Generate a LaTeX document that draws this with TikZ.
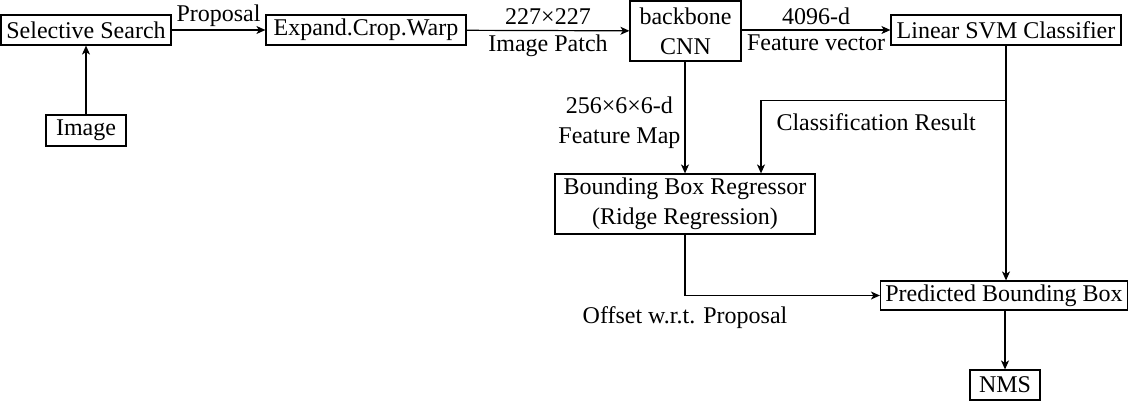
\documentclass[tikz,border=0pt]{standalone}
\usepackage{fontspec}
\setmainfont{Liberation Serif}
\usepackage{tikz}
\usetikzlibrary{shapes,arrows.meta,positioning,calc}

\begin{document}
\begin{tikzpicture}[x=1pt, y=-1pt, line width=1.2pt,
    >={Stealth[length=9pt, width=8pt, inset=2.5pt]},
    every node/.style={font=\fontsize{24}{30}\selectfont},
    box/.style={rectangle, draw, inner sep=0pt, align=center},
    lbl/.style={inner sep=5pt, align=center}]
\useasboundingbox (0,0) rectangle (1131,401);

% Prima riga
\node[box, minimum width=170, minimum height=30] (ss) at (86,30) {Selective Search};
\node[box, minimum width=80, minimum height=31] (img) at (86,130.5) {Image};
\node[box, minimum width=200, minimum height=30] (ecw) at (366,30) {Expand.Crop.Warp};
\node[box, minimum width=111, minimum height=60] (cnn) at (685.5,31) {backbone\\CNN};
\node[box, minimum width=230, minimum height=30] (svm) at (1006,30) {Linear SVM Classifier};

\draw[->] (img) -- (ss);
\draw[->] (ss) -- node[lbl, above, inner sep=3pt] {Proposal} (ecw);
\draw[->] (ecw) -- node[lbl, above] {227×227} node[lbl, below, inner sep=4pt] {Image Patch} (cnn);
\draw[->] (cnn.east |- svm) -- node[lbl, above] {4096-d} node[lbl, below, inner sep=4pt] {Feature vector} (svm);

% Regressione
\node[box, minimum width=260, minimum height=60] (bbr) at (685,204) {Bounding Box Regressor\\(Ridge Regression)};
\node[box, minimum width=247, minimum height=29] (pbb) at (1004,295.5) {Predicted Bounding Box};
\node[box, minimum width=70, minimum height=30] (nms) at (1005,385) {NMS};

\draw[->] (cnn.south -| bbr.north) -- node[lbl, left, inner sep=4pt, yshift=-5pt] {256×6×6-d\\Feature Map} (bbr.north);
\coordinate (split) at ($(svm.south)+(0,55)$);
\coordinate (cls) at ($(bbr.north)!(split)!(bbr.north)+(76,0)$);
\draw[->] (svm.south) -- (svm.south |- pbb.north);
\draw[->] (split) -- node[lbl, below, inner sep=12pt, pos=0.53] {Classification Result} (split -| cls) -- (cls |- bbr.north);
\draw[->] (bbr.south) |- node[lbl, below, inner sep=10pt] {Offset w.r.t. Proposal} (pbb.west);
\draw[->] (pbb.south -| nms.north) -- (nms.north);
\end{tikzpicture}
\end{document}
